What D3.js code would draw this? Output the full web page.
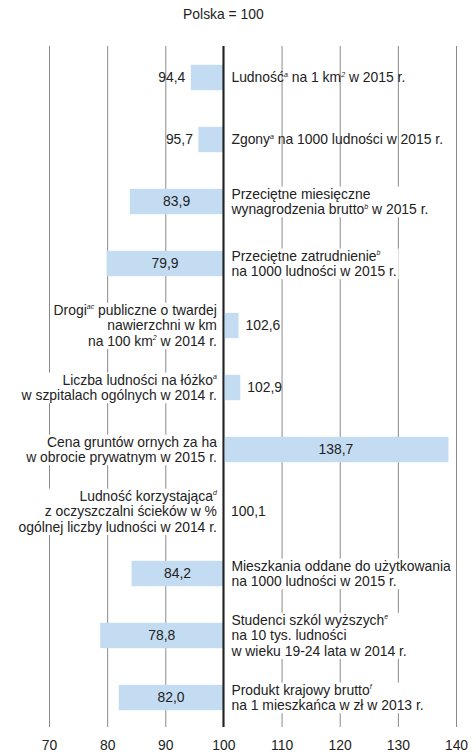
<html>
<head>
  <meta charset="utf-8">
  <title>Polska = 100</title>
  <script src="https://d3js.org/d3.v7.min.js"></script>
  <style>
    body { margin: 0; background: #fff; }
    text { font-family: "Liberation Sans", Arial, sans-serif; fill: #222; }
  </style>
</head>
<body>
  <script>

	// one label per row, lines split; {x} marks a superscript
	var labels = [
	  ['Ludność{a} na 1 km{2} w 2015 r.'],
	  ['Zgony{a} na 1000 ludności w 2015 r.'],
	  ['Przeciętne miesięczne', 'wynagrodzenia brutto{b} w 2015 r.'],
	  ['Przeciętne zatrudnienie{b}', 'na 1000 ludności w 2015 r.'],
	  ['Drogi{ac} publiczne o twardej', 'nawierzchni w km', 'na 100 km{2} w 2014 r.'],
	  ['Liczba ludności na łóżko{a}', 'w szpitalach ogólnych w 2014 r.'],
	  ['Cena gruntów ornych za ha', 'w obrocie prywatnym w 2015 r.'],
	  ['Ludność korzystająca{d}', 'z oczyszczalni ścieków w %', 'ogólnej liczby ludności w 2014 r.'],
	  ['Mieszkania oddane do użytkowania', 'na 1000 ludności w 2015 r.'],
	  ['Studenci szkól wyższych{e}', 'na 10 tys. ludności', 'w wieku 19-24 lata w 2014 r.'],
	  ['Produkt krajowy brutto{f}', 'na 1 mieszkańca w zł w 2013 r.']
	];
	var values = [94.4, 95.7, 83.9, 79.9, 102.6, 102.9, 138.7, 100.1, 84.2, 78.8, 82.0];
	var ticks = [70, 80, 90, 100, 110, 120, 130, 140];
	var title = 'Polska = 100';

	var W = 476, H = 755;
	var fs = 13.9, lh = 15.6;

	var svg = d3.select('body')
	            .append('svg')
	              .attr('width', W)
	              .attr('height', H);

	var x = d3.scaleLinear().domain([70, 140]).range([49, 456]);
	var y = d3.scaleBand()
	          .domain(d3.range(values.length))
	          .range([46.5, 728.5])
	          .paddingInner(0.59)
	          .paddingOuter(0.295);

	var fmt = function(v){ return d3.format('.1f')(v).replace('.', ','); };

	// grid lines + tick labels
	var axis = svg.append('g')
	  .attr('transform', 'translate(0,727)')
	  .call(d3.axisBottom(x).tickValues(ticks).tickSize(-(727 - 46)).tickPadding(13).tickFormat(d3.format('d')));
	axis.select('.domain').remove();
	axis.selectAll('line').attr('stroke', '#8a8a8a').attr('stroke-width', 1);
	axis.selectAll('text').attr('font-size', fs).attr('font-family', '"Liberation Sans", Arial, sans-serif').attr('fill', '#222');

	svg.append('text')
	  .attr('x', x(100))
	  .attr('y', 19)
	  .attr('text-anchor', 'middle')
	  .attr('font-size', fs)
	  .text(title);

	// bars
	svg.selectAll('rect.bar')
	  .data(values)
	  .enter()
	  .append('rect')
	  .attr('class', 'bar')
	  .attr('x', function(d){ return x(Math.min(d, 100)); })
	  .attr('width', function(d){ return Math.abs(x(d) - x(100)); })
	  .attr('y', function(d, i){ return y(i); })
	  .attr('height', y.bandwidth())
	  .attr('fill', '#c4dcf2');

	// value labels
	svg.selectAll('text.val')
	  .data(values)
	  .enter()
	  .append('text')
	  .attr('class', 'val')
	  .attr('font-size', fs)
	  .attr('dy', '0.35em')
	  .attr('y', function(d, i){ return y(i) + y.bandwidth() / 2; })
	  .attr('x', function(d){
	    var w = Math.abs(x(d) - x(100));
	    if (w > 45) return (x(d) + x(100)) / 2;
	    return d < 100 ? x(d) - 5.5 : x(d) + 7;
	  })
	  .attr('text-anchor', function(d){
	    var w = Math.abs(x(d) - x(100));
	    if (w > 45) return 'middle';
	    return d < 100 ? 'end' : 'start';
	  })
	  .text(fmt);

	// category labels: right of the 100 line for bars below 100, left otherwise
	labels.forEach(function(lines, i){
	  var right = values[i] < 100;
	  var cy = y(i) + y.bandwidth() / 2;
	  var lx = right ? x(100) + 8 : x(100) - 6.5;
	  var g = svg.append('g');
	  var bg = g.append('rect').attr('fill', '#fff');
	  var t = g.append('text')
	    .attr('font-size', fs)
	    .attr('text-anchor', right ? 'start' : 'end');
	  lines.forEach(function(line, k){
	    var ty = cy + (k - (lines.length - 1) / 2) * lh + fs * 0.35;
	    var first = true, back = 0;
	    line.split(/\{([^}]+)\}/).forEach(function(part, j){
	      if (!part) return;
	      var sp = t.append('tspan');
	      if (first) { sp.attr('x', lx).attr('y', ty); first = false; }
	      if (j % 2 === 1) {
	        sp.attr('font-size', 7)
	          .attr('font-style', 'italic')
	          .attr('dy', -5.5)
	          .text(part);
	        back = 5.5;
	      } else {
	        if (back) sp.attr('dy', back);
	        sp.text(part);
	        back = 0;
	      }
	    });
	  });
	  if (lines.length > 1) {
	    var b = t.node().getBBox();
	    bg.attr('x', b.x - 2).attr('y', b.y + 1).attr('width', b.width + 4).attr('height', b.height - 1);
	  } else {
	    bg.remove();
	  }
	});

	// the 100 reference line
	svg.append('line')
	  .attr('x1', x(100)).attr('x2', x(100))
	  .attr('y1', 46).attr('y2', 727)
	  .attr('stroke', '#222')
	  .attr('stroke-width', 2);

  </script>
</body>
</html>
